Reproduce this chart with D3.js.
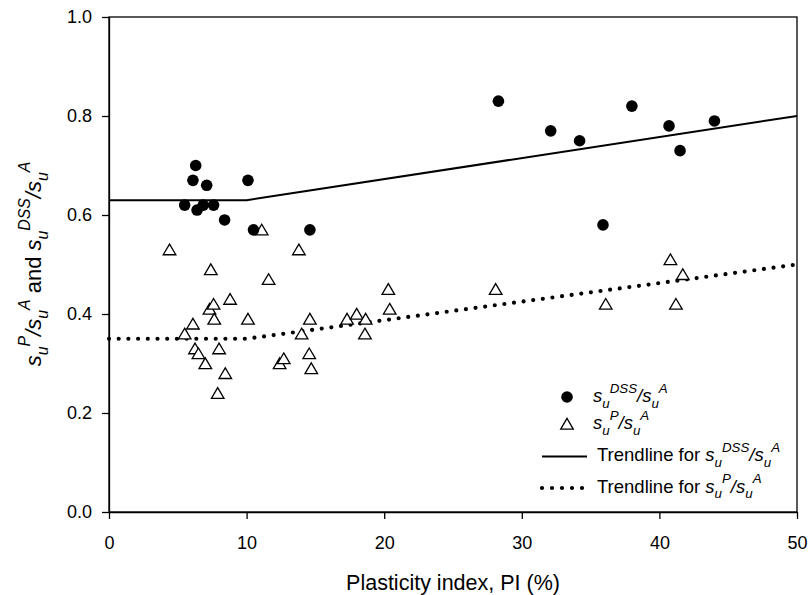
<!DOCTYPE html>
<head>
  <meta charset="UTF-8">
  <style>
    *{ margin: 0px; }
    body{ background-color: white; }
    svg{
      position: absolute;
      font-family: "Liberation Sans", Arial, sans-serif;
    }
    .axis path, .axis line{ stroke: black; stroke-width: 1.3px; }
    .axis text{ font-size: 18px; fill: black; }
  </style>
  <script src="https://d3js.org/d3.v7.min.js"></script>
</head>
<body>
  <svg id="chart" width="808" height="595"></svg>

  <script>
    // s_u^DSS / s_u^A (filled circles)
    var piDSS    = [5.5, 6.1, 6.3, 6.4, 6.85, 7.1, 7.6, 8.4, 10.1, 10.5, 14.6, 28.3, 32.1, 34.2, 35.9, 38.0, 40.7, 41.5, 44.0];
    var ratioDSS = [0.62, 0.67, 0.70, 0.61, 0.62, 0.66, 0.62, 0.59, 0.67, 0.57, 0.57, 0.83, 0.77, 0.75, 0.58, 0.82, 0.78, 0.73, 0.79];

    // s_u^P / s_u^A (open triangles)
    var piP    = [4.4, 5.5, 6.1, 6.25, 6.5, 7.0, 7.3, 7.4, 7.6, 7.65, 7.9, 8.0, 8.45, 8.8, 10.1, 11.1, 11.6, 12.4, 12.7, 13.8, 14.0, 14.55, 14.6, 14.7,
                  17.3, 18.0, 18.6, 18.65, 20.3, 20.4, 28.1, 36.1, 40.8, 41.2, 41.7];
    var ratioP = [0.53, 0.36, 0.38, 0.33, 0.32, 0.30, 0.41, 0.49, 0.42, 0.39, 0.24, 0.33, 0.28, 0.43, 0.39, 0.57, 0.47, 0.30, 0.31, 0.53, 0.36, 0.32, 0.39, 0.29,
                  0.39, 0.40, 0.36, 0.39, 0.45, 0.41, 0.45, 0.42, 0.51, 0.42, 0.48];

    // bilinear trendlines
    var trendPI    = [0, 10, 50];
    var trendDSS   = [0.63, 0.63, 0.80];
    var trendPval  = [0.35, 0.35, 0.50];

    var xTicks = [0, 10, 20, 30, 40, 50];
    var yTicks = [0, 0.2, 0.4, 0.6, 0.8, 1.0];

    var svg = d3.select("#chart");
    var mLeft = 109, mRight = 797, mTop = 17, mBottom = 512;

    var x = d3.scaleLinear().domain([0, 50]).range([mLeft, mRight]);
    var y = d3.scaleLinear().domain([0, 1]).range([mBottom, mTop]);

    // frame
    svg.append("rect")
      .attr("x", mLeft).attr("y", mTop)
      .attr("width", mRight - mLeft).attr("height", mBottom - mTop)
      .attr("fill", "none").attr("stroke", "black").attr("stroke-width", 1.3);

    svg.append("g").attr("class", "axis")
      .attr("transform", "translate(0," + mBottom + ")")
      .call(d3.axisBottom(x).tickValues(xTicks).tickSize(7).tickSizeOuter(0).tickPadding(17));

    svg.append("g").attr("class", "axis")
      .attr("transform", "translate(" + mLeft + ",0)")
      .call(d3.axisLeft(y).tickValues(yTicks).tickFormat(d3.format(".1f")).tickSize(7).tickSizeOuter(0).tickPadding(10));

    // trendlines
    var line = d3.line().x(d => x(d[0])).y(d => y(d[1]));

    svg.append("path")
      .datum(d3.zip(trendPI, trendDSS))
      .attr("d", line)
      .attr("fill", "none").attr("stroke", "black").attr("stroke-width", 2);

    svg.append("path")
      .datum(d3.zip(trendPI, trendPval))
      .attr("d", line)
      .attr("fill", "none").attr("stroke", "black").attr("stroke-width", 4.2)
      .attr("stroke-linecap", "round").attr("stroke-dasharray", "0 9.7");

    var tri = "M0,-5.6L6.3,5.1L-6.3,5.1Z";

    svg.append("g")
      .selectAll("path")
      .data(d3.zip(piP, ratioP))
      .enter()
      .append("path")
      .attr("d", tri)
      .attr("transform", d => "translate(" + x(d[0]) + "," + y(d[1]) + ")")
      .attr("fill", "white").attr("stroke", "black").attr("stroke-width", 1.3);

    svg.append("g")
      .selectAll("circle")
      .data(d3.zip(piDSS, ratioDSS))
      .enter()
      .append("circle")
      .attr("cx", d => x(d[0]))
      .attr("cy", d => y(d[1]))
      .attr("r", 5.8)
      .attr("fill", "black");

    // s_u^X/s_u^A style text with sub/superscripts
    function rich(text, parts, size){
      var small = size * 0.72, shift = 0;
      parts.forEach(function(p){
        var t = text.append("tspan").text(p[0]);
        var target = 0;
        if(p[1] === "sub") target = size * 0.32;
        if(p[1] === "sup") target = -size * 0.5;
        if(p[1] === "sub" || p[1] === "sup") t.attr("font-size", small + "px");
        if(p[1] !== "n") t.attr("font-style", "italic");
        t.attr("dy", target - shift);
        shift = target;
      });
    }
    function ratio(sup){
      return [["s", "i"], ["u", "sub"], [sup, "sup"], ["/s", "i"], ["u", "sub"], ["A", "sup"]];
    }

    // legend
    var legend = svg.append("g");
    legend.append("circle").attr("cx", 567).attr("cy", 397).attr("r", 5.8).attr("fill", "black");
    legend.append("path").attr("d", tri).attr("transform", "translate(567,424)")
      .attr("fill", "white").attr("stroke", "black").attr("stroke-width", 1.3);
    legend.append("line").attr("x1", 542).attr("x2", 587).attr("y1", 456.5).attr("y2", 456.5)
      .attr("stroke", "black").attr("stroke-width", 2);
    legend.append("line").attr("x1", 542).attr("x2", 584).attr("y1", 488).attr("y2", 488)
      .attr("stroke", "black").attr("stroke-width", 4.2)
      .attr("stroke-linecap", "round").attr("stroke-dasharray", "0 10");

    var lf = 18.5;
    rich(legend.append("text").attr("x", 593).attr("y", 402).attr("font-size", lf + "px"), ratio("DSS"), lf);
    rich(legend.append("text").attr("x", 593).attr("y", 429).attr("font-size", lf + "px"), ratio("P"), lf);
    rich(legend.append("text").attr("x", 597).attr("y", 461).attr("font-size", lf + "px"),
      [["Trendline for ", "n"]].concat(ratio("DSS")), lf);
    rich(legend.append("text").attr("x", 597).attr("y", 492.5).attr("font-size", lf + "px"),
      [["Trendline for ", "n"]].concat(ratio("P")), lf);

    // axis titles
    svg.append("text")
      .attr("x", 453).attr("y", 590)
      .attr("text-anchor", "middle")
      .attr("font-size", "21.5px")
      .text("Plasticity index, PI (%)");

    var tf = 22;
    var ytitle = svg.append("text")
      .attr("transform", "translate(41,264) rotate(-90)")
      .attr("text-anchor", "middle")
      .attr("font-size", tf + "px");
    rich(ytitle, ratio("P").concat([[" and ", "n"]]).concat(ratio("DSS")), tf);
  </script>
</body>
